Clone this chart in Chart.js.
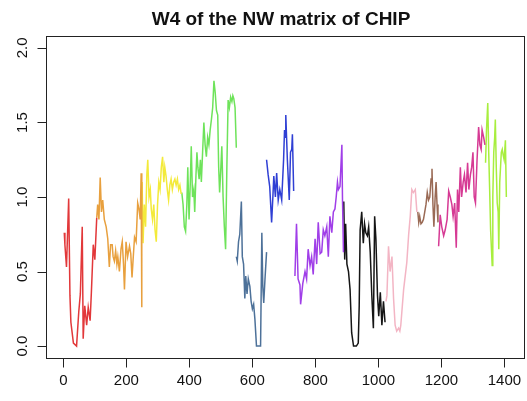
<!DOCTYPE html>
<html>
<head>
<meta charset="utf-8">
<script src="https://cdn.jsdelivr.net/npm/chart.js@4.4.1/dist/chart.umd.min.js"></script>
<style>
  html, body { margin: 0; padding: 0; background: #ffffff; }
  #wrap { width: 527px; height: 401px; }
</style>
</head>
<body>
<div id="wrap"><canvas id="c" width="527" height="401"></canvas></div>
<script>
// ---- data ----
const titleText = "W4 of the NW matrix of CHIP";
const xTicks = [0, 200, 400, 600, 800, 1000, 1200, 1400];
const xTickLabels = ["0", "200", "400", "600", "800", "1000", "1200", "1400"];
const yTicks = [0, 0.5, 1, 1.5, 2];
const yTickLabels = ["0.0", "0.5", "1.0", "1.5", "2.0"];

const redX = [3,5,10,17,21,24,32,42,49,54,60,63,68,74,79,85,89,95,100,106];
const redY = [0.76,0.68,0.53,0.99,0.34,0.16,0.02,0.0,0.23,0.35,0.8,0.05,0.27,0.14,0.26,0.17,0.36,0.68,0.58,0.86];

const orangeX = [106,109,113,117,121,125,130,136,141,146,150,155,158,162,166,170,173,178,183,187,191,194,199,204,210,214,218,222,226,231,236,240,244,247,249];
const orangeY = [0.86,0.95,0.85,1.13,0.9,0.98,0.85,0.8,0.72,0.53,0.68,0.68,0.6,0.57,0.64,0.55,0.6,0.5,0.65,0.7,0.55,0.38,0.7,0.6,0.67,0.62,0.46,0.6,0.73,0.7,0.96,0.92,0.85,1.16,0.26];

const yellowX = [250,253,257,261,265,268,272,276,279,283,287,291,295,299,303,307,311,315,319,322,326,330,334,338,342,346,350,354,358,362,366,370,374];
const yellowY = [1.1,0.69,0.95,0.8,1.15,1.25,1.0,1.05,0.92,0.85,0.95,0.78,0.7,0.95,1.1,1.05,1.2,1.27,1.1,1.2,1.14,1.05,0.98,1.08,1.12,1.05,1.1,1.12,1.08,1.12,1.05,1.08,1.02];

const greenX = [376,380,384,388,392,395,399,403,406,410,414,417,421,424,427,431,435,438,442,446,450,454,458,462,466,470,474,478,482,486,490,493,496,500,503,507,511,515,519,523,527,531,535,538,541,545,549];
const greenY = [1.03,0.95,0.8,0.77,0.95,1.2,0.85,1.1,1.34,1.0,1.05,0.9,1.15,1.3,1.2,1.12,1.25,1.1,1.3,1.5,1.35,1.27,1.4,1.35,1.45,1.52,1.6,1.78,1.7,1.58,1.55,1.2,1.03,1.2,1.34,1.0,0.8,0.65,1.2,1.65,1.6,1.67,1.64,1.68,1.66,1.6,1.33];

const steelX = [549,552,556,560,565,568,572,576,579,583,587,592,596,600,604,608,613,618,622,626,630,633,636,640,645];
const steelY = [0.6,0.57,0.7,0.75,0.97,0.6,0.55,0.32,0.47,0.35,0.45,0.4,0.3,0.25,0.28,0.18,0.0,0.0,0.0,0.0,0.76,0.4,0.29,0.45,0.63];

const blueX = [645,650,655,661,665,668,673,677,682,687,693,699,702,704,706,711,717,721,725,727,731];
const blueY = [1.25,1.15,1.07,0.83,1.0,1.14,1.0,1.16,0.98,1.05,0.98,1.25,1.45,1.4,1.55,1.25,0.98,1.3,1.32,1.42,1.04];

const purpleX = [735,740,745,751,753,760,767,772,777,783,788,793,799,804,809,815,820,825,830,836,841,846,852,857,862,866,870,873,878,884,886,889];
const purpleY = [0.47,0.82,0.45,0.41,0.28,0.42,0.5,0.45,0.65,0.54,0.6,0.48,0.72,0.55,0.83,0.62,0.63,0.78,0.74,0.8,0.6,0.87,0.76,0.9,0.92,1.0,1.1,1.05,1.07,1.35,0.98,0.63];

const blackX = [890,893,896,900,905,910,915,921,930,936,939,942,947,952,956,960,965,969,974,979,984,988,992,997,1001,1006,1011,1016,1021];
const blackY = [0.97,0.58,0.82,0.55,0.5,0.38,0.09,0.0,0.0,0.02,0.27,0.78,0.9,0.69,0.82,0.76,0.74,0.8,0.63,0.34,0.12,0.87,0.72,0.34,0.2,0.36,0.14,0.3,0.16];

const pinkX = [1024,1027,1032,1037,1043,1048,1053,1058,1064,1068,1071,1080,1090,1096,1101,1106,1111,1117,1122];
const pinkY = [0.3,0.34,0.67,0.5,0.6,0.32,0.14,0.1,0.12,0.1,0.14,0.38,0.56,0.75,0.87,1.05,1.03,1.05,0.9];

const brownX = [1125,1128,1131,1135,1139,1143,1147,1151,1155,1159,1163,1167,1170,1173,1176,1180,1183,1186,1189];
const brownY = [0.9,0.83,0.87,0.82,0.83,0.85,0.9,0.95,1.03,0.98,1.0,1.12,1.19,0.95,0.8,1.0,1.1,0.95,0.83];

const magentaX = [1191,1196,1201,1207,1212,1218,1223,1228,1233,1237,1242,1247,1251,1255,1260,1264,1269,1273,1278,1283,1287,1292,1296,1300,1304,1308,1313,1318,1322,1326,1329,1334,1338];
const magentaY = [0.67,0.88,0.8,0.74,0.78,0.85,1.04,1.0,0.95,0.87,0.96,0.66,1.05,0.9,1.2,1.0,1.1,1.15,1.03,1.23,1.05,1.15,1.2,1.3,1.0,0.96,1.25,1.47,1.35,1.32,1.45,1.4,1.35];

const ygX = [1340,1343,1347,1350,1353,1356,1361,1363,1366,1369,1371,1374,1377,1380,1382,1385,1387,1390,1393,1396,1399,1403,1406];
const ygY = [1.23,1.45,1.63,1.3,1.05,0.78,0.54,1.0,1.3,1.4,1.52,1.2,0.96,0.9,0.65,1.1,1.18,1.3,1.32,1.28,1.25,1.38,1.0];

const segments = [
  { xs: redX, ys: redY, color: "#e2383a" },
  { xs: orangeX, ys: orangeY, color: "#e8a03e" },
  { xs: yellowX, ys: yellowY, color: "#f3ea3a" },
  { xs: greenX, ys: greenY, color: "#6ee35a" },
  { xs: steelX, ys: steelY, color: "#4d7199" },
  { xs: blueX, ys: blueY, color: "#2f3fd4" },
  { xs: purpleX, ys: purpleY, color: "#a03ee8" },
  { xs: blackX, ys: blackY, color: "#151515" },
  { xs: pinkX, ys: pinkY, color: "#f3b5c4" },
  { xs: brownX, ys: brownY, color: "#9a6a55" },
  { xs: magentaX, ys: magentaY, color: "#d63a94" },
  { xs: ygX, ys: ygY, color: "#a8ee3e" }
];

const FONT = '"Liberation Sans", Arial, Helvetica, sans-serif';

const rAxesPlugin = {
  id: 'rAxes',
  afterDraw(chart) {
    const ctx = chart.ctx, a = chart.chartArea;
    const xs = chart.scales.x, ys = chart.scales.y;
    ctx.save();
    ctx.strokeStyle = '#222';
    ctx.fillStyle = '#111';
    ctx.lineWidth = 1;
    // box
    ctx.strokeRect(Math.round(a.left) + 0.5, Math.round(a.top) + 0.5,
                   Math.round(a.right - a.left), Math.round(a.bottom - a.top));
    // x axis ticks + labels
    ctx.font = '15px ' + FONT;
    ctx.textAlign = 'center';
    ctx.textBaseline = 'alphabetic';
    const yb = Math.round(a.bottom) + 0.5;
    ctx.beginPath();
    xTicks.forEach((t) => {
      const px = Math.round(xs.getPixelForValue(t)) + 0.5;
      ctx.moveTo(px, yb); ctx.lineTo(px, yb + 9);
    });
    ctx.stroke();
    xTicks.forEach((t, i) => {
      ctx.fillText(xTickLabels[i], xs.getPixelForValue(t), 385);
    });
    // y axis ticks + labels
    const xl = Math.round(a.left) + 0.5;
    ctx.beginPath();
    yTicks.forEach((t) => {
      const py = Math.round(ys.getPixelForValue(t)) + 0.5;
      ctx.moveTo(xl, py); ctx.lineTo(xl - 9, py);
    });
    ctx.stroke();
    yTicks.forEach((t, i) => {
      ctx.save();
      ctx.translate(27, ys.getPixelForValue(t));
      ctx.rotate(-Math.PI / 2);
      ctx.fillText(yTickLabels[i], 0, 0);
      ctx.restore();
    });
    // title
    ctx.font = 'bold 19px ' + FONT;
    ctx.fillText(titleText, (a.left + a.right) / 2 - 4, 25);
    ctx.restore();
  }
};

new Chart(document.getElementById('c'), {
  type: 'line',
  data: {
    datasets: segments.map((s) => ({
      data: s.xs.map((x, i) => ({ x: x, y: s.ys[i] })),
      borderColor: s.color,
      borderWidth: 1.5,
      pointRadius: 0,
      tension: 0,
      fill: false
    }))
  },
  options: {
    responsive: false,
    animation: false,
    layout: { padding: { left: 46, right: 3, top: 36, bottom: 43 } },
    plugins: { legend: { display: false }, title: { display: false }, tooltip: { enabled: false } },
    scales: {
      x: { type: 'linear', min: -55, max: 1462, display: false },
      y: { type: 'linear', min: -0.08, max: 2.08, display: false }
    }
  },
  plugins: [rAxesPlugin]
});
</script>
</body>
</html>
